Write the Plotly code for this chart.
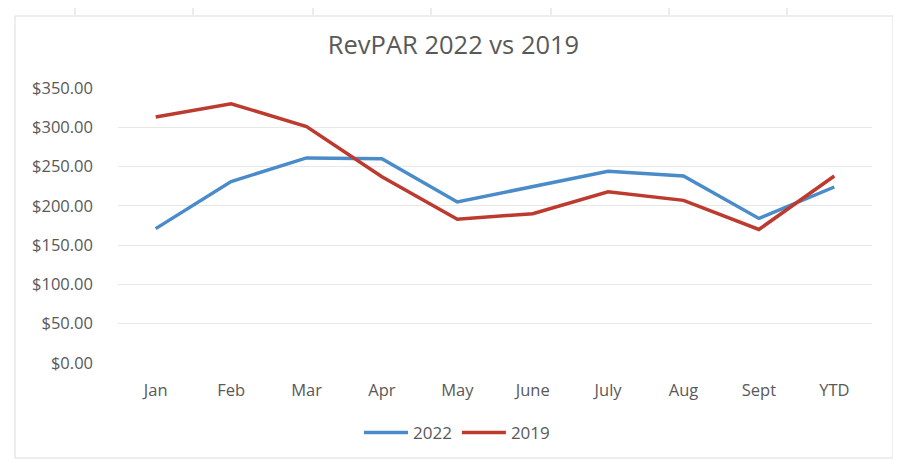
import plotly.graph_objects as go

categories = ["Jan", "Feb", "Mar", "Apr", "May", "June", "July", "Aug", "Sept", "YTD"]
revpar_2022 = [171, 231, 261, 260, 205, 224, 244, 238, 184, 224]
revpar_2019 = [313, 330, 301, 237, 183, 190, 218, 207, 170, 238]
y_ticks = [0, 50, 100, 150, 200, 250, 300, 350]
y_tick_labels = ["$%.2f" % v for v in y_ticks]

OFF = 8  # page body margin
W, H = 885, 457
L, R, T, B = 110, 21, 80, 102
PW, PH = W - L - R, H - T - B


def px_x(p):
    return (p - OFF - L) / PW


def px_y(p):
    return (H - B - (p - OFF)) / PH


fig = go.Figure()
fig.add_trace(go.Scatter(x=categories, y=revpar_2022, mode="lines", name="2022",
                         line=dict(color="#4a8bc9", width=3.5)))
fig.add_trace(go.Scatter(x=categories, y=revpar_2019, mode="lines", name="2019",
                         line=dict(color="#bd3a2f", width=3.5)))

shapes = []
for xp in [75, 193, 313, 431, 551, 669, 787]:
    shapes.append(dict(type="line", xref="paper", yref="paper",
                       x0=px_x(xp), x1=px_x(xp), y0=px_y(8), y1=px_y(15),
                       line=dict(color="#d9d9d9", width=1)))
shapes.append(dict(type="rect", xref="paper", yref="paper",
                   x0=px_x(15), x1=px_x(893), y0=px_y(458), y1=px_y(16),
                   line=dict(color="#dcdcdc", width=1), fillcolor="rgba(0,0,0,0)", layer="below"))

fig.update_layout(
    width=W, height=H,
    margin=dict(l=L, r=R, t=T, b=B),
    paper_bgcolor="white", plot_bgcolor="white",
    font=dict(family="Open Sans", color="#595959", size=16),
    title=dict(text="RevPAR 2022 vs 2019", x=(453.5 - OFF) / W, xanchor="center",
               y=1 - (45 - OFF) / H, yanchor="middle",
               font=dict(size=25.5, color="#595959", family="Open Sans")),
    showlegend=True,
    legend=dict(orientation="h", x=px_x(365 - 6), xanchor="left", y=px_y(433), yanchor="middle",
                font=dict(size=17, color="#595959"), itemwidth=44, tracegroupgap=0),
    shapes=shapes,
    xaxis=dict(type="category", range=[-0.5, 9.5], showgrid=False, showline=False,
               zeroline=False, ticks="", ticklabelstandoff=15,
               tickfont=dict(size=16.5, color="#595959")),
    yaxis=dict(range=[0, 350], tickvals=y_ticks, ticktext=y_tick_labels,
               showgrid=True, gridcolor="#e8e8e8", gridwidth=1, zeroline=False,
               showline=False, ticks="", ticklabelstandoff=24,
               tickfont=dict(size=16.5, color="#595959")),
)

fig.write_html("out.html")
